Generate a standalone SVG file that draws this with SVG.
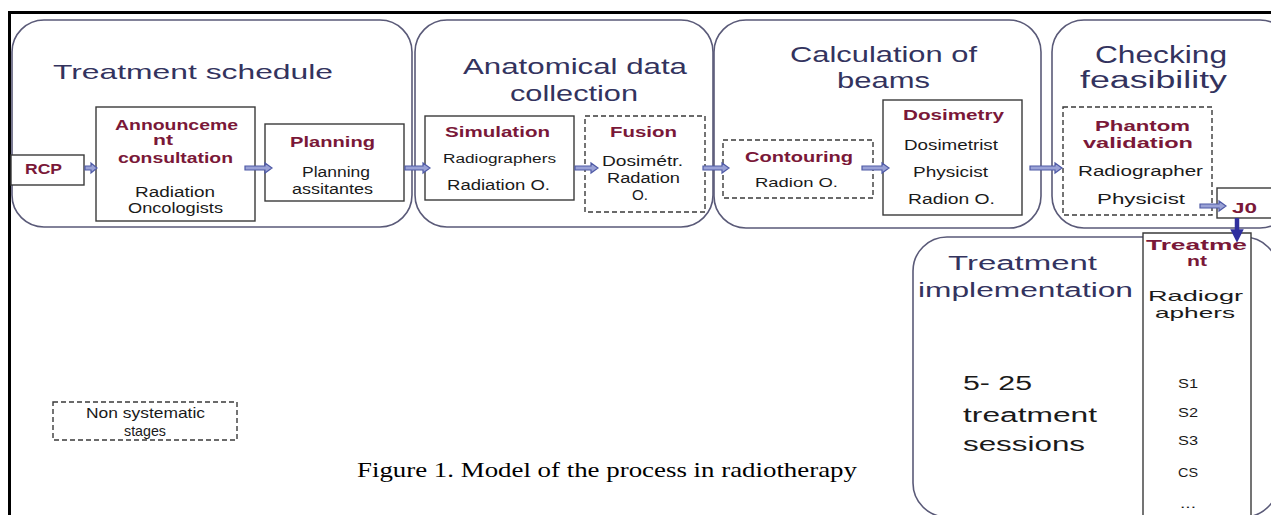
<svg xmlns="http://www.w3.org/2000/svg" width="1271" height="515" viewBox="0 0 1271 515">
<style>
.panel{fill:#fff;stroke:#5a5a78;stroke-width:1.6}
.box{fill:#fff;stroke:#3a3a3a;stroke-width:1.4}
.dash{fill:#fff;stroke:#3a3a3a;stroke-width:1.4;stroke-dasharray:5,3}
.title{font-family:"Liberation Sans",Arial,sans-serif;fill:#33335e}
.lbl{font-family:"Liberation Sans",Arial,sans-serif;font-weight:bold;fill:#7a1838;font-size:15px}
.txt{font-family:"Liberation Sans",Arial,sans-serif;fill:#1a1a1a}
.arr{fill:#9aa2d6;stroke:#4f5aa6;stroke-width:1.2}
.cap{font-family:"Liberation Serif","Times New Roman",serif;fill:#000;font-size:21px}
</style>
<defs>
<marker id="down" viewBox="0 0 10 10" refX="5" refY="5" markerWidth="3" markerHeight="3" orient="auto"><path d="M0,0 L10,5 L0,10 Z" fill="#2f2f9e"/></marker>
</defs>
<rect x="0" y="0" width="1271" height="515" fill="#fff"/>
<line x1="8" y1="12.5" x2="1271" y2="12.5" stroke="#000" stroke-width="3"/>
<line x1="9.5" y1="11" x2="9.5" y2="515" stroke="#000" stroke-width="3"/>

<g id="panel-schedule">
<rect class="panel" x="12" y="20" width="400" height="207" rx="32"/>
<text class="title" font-size="21" x="53" y="79" textLength="280" lengthAdjust="spacingAndGlyphs">Treatment schedule</text>
</g>
<g id="panel-anatomical">
<rect class="panel" x="415" y="20" width="298" height="207" rx="32"/>
<text class="title" font-size="22" x="463" y="74" textLength="224" lengthAdjust="spacingAndGlyphs">Anatomical data</text>
<text class="title" font-size="22" x="510" y="101" textLength="128" lengthAdjust="spacingAndGlyphs">collection</text>
</g>
<g id="panel-calculation">
<rect class="panel" x="714" y="20" width="327" height="208" rx="32"/>
<text class="title" font-size="22" x="790" y="62" textLength="187" lengthAdjust="spacingAndGlyphs">Calculation of</text>
<text class="title" font-size="22" x="837" y="88" textLength="93" lengthAdjust="spacingAndGlyphs">beams</text>
</g>
<g id="panel-checking">
<rect class="panel" x="1052" y="20" width="240" height="208" rx="32"/>
<text class="title" font-size="23" x="1095" y="63" textLength="132" lengthAdjust="spacingAndGlyphs">Checking</text>
<text class="title" font-size="23" x="1080" y="88" textLength="147" lengthAdjust="spacingAndGlyphs">feasibility</text>
</g>
<g id="panel-implementation">
<rect class="panel" x="913" y="237" width="365" height="280" rx="34"/>
<text class="title" font-size="20" x="948" y="270" textLength="149" lengthAdjust="spacingAndGlyphs">Treatment</text>
<text class="title" font-size="20" x="918" y="297" textLength="215" lengthAdjust="spacingAndGlyphs">implementation</text>
<text class="txt" font-size="20" x="963" y="390" textLength="69" lengthAdjust="spacingAndGlyphs">5- 25</text>
<text class="txt" font-size="20" x="963" y="422" textLength="134" lengthAdjust="spacingAndGlyphs">treatment</text>
<text class="txt" font-size="20" x="963" y="451" textLength="122" lengthAdjust="spacingAndGlyphs">sessions</text>
</g>

<g id="node-rcp">
<rect class="box" x="11" y="155" width="73" height="30"/>
<text class="lbl" font-size="14" x="25" y="174" textLength="37" lengthAdjust="spacingAndGlyphs">RCP</text>
</g>
<g id="node-announcement">
<rect class="box" x="96" y="107" width="159" height="114"/>
<text class="lbl" x="115" y="130" textLength="123" lengthAdjust="spacingAndGlyphs">Announceme</text>
<text class="lbl" x="153" y="145" textLength="20" lengthAdjust="spacingAndGlyphs">nt</text>
<text class="lbl" x="118" y="163" textLength="115" lengthAdjust="spacingAndGlyphs">consultation</text>
<text class="txt" font-size="14" x="135" y="197" textLength="80" lengthAdjust="spacingAndGlyphs">Radiation</text>
<text class="txt" font-size="14" x="128" y="213" textLength="95" lengthAdjust="spacingAndGlyphs">Oncologists</text>
</g>
<g id="node-planning">
<rect class="box" x="265" y="124" width="139" height="77"/>
<text class="lbl" font-size="16" x="290" y="147" textLength="85" lengthAdjust="spacingAndGlyphs">Planning</text>
<text class="txt" font-size="14" x="302" y="177" textLength="68" lengthAdjust="spacingAndGlyphs">Planning</text>
<text class="txt" font-size="14" x="292" y="194" textLength="81" lengthAdjust="spacingAndGlyphs">assitantes</text>
</g>
<g id="node-simulation">
<rect class="box" x="425" y="116" width="149" height="84"/>
<text class="lbl" x="445" y="137" textLength="105" lengthAdjust="spacingAndGlyphs">Simulation</text>
<text class="txt" font-size="12" x="443" y="163" textLength="113" lengthAdjust="spacingAndGlyphs">Radiographers</text>
<text class="txt" font-size="14" x="447" y="190" textLength="103" lengthAdjust="spacingAndGlyphs">Radiation O.</text>
</g>
<g id="node-fusion">
<rect class="dash" x="585" y="116" width="120" height="96"/>
<text class="lbl" x="610" y="137" textLength="67" lengthAdjust="spacingAndGlyphs">Fusion</text>
<text class="txt" font-size="14" x="602" y="166" textLength="81" lengthAdjust="spacingAndGlyphs">Dosimétr.</text>
<text class="txt" font-size="14" x="607" y="183" textLength="73" lengthAdjust="spacingAndGlyphs">Radation</text>
<text class="txt" font-size="14" x="632" y="200" textLength="16" lengthAdjust="spacingAndGlyphs">O.</text>
</g>
<g id="node-contouring">
<rect class="dash" x="723" y="140" width="150" height="58"/>
<text class="lbl" x="745" y="162" textLength="108" lengthAdjust="spacingAndGlyphs">Contouring</text>
<text class="txt" font-size="13" x="755" y="187" textLength="83" lengthAdjust="spacingAndGlyphs">Radion O.</text>
</g>
<g id="node-dosimetry">
<rect class="box" x="883" y="100" width="139" height="115"/>
<text class="lbl" x="903" y="120" textLength="101" lengthAdjust="spacingAndGlyphs">Dosimetry</text>
<text class="txt" font-size="14" x="904" y="150" textLength="94" lengthAdjust="spacingAndGlyphs">Dosimetrist</text>
<text class="txt" font-size="14" x="913" y="177" textLength="75" lengthAdjust="spacingAndGlyphs">Physicist</text>
<text class="txt" font-size="14" x="908" y="204" textLength="87" lengthAdjust="spacingAndGlyphs">Radion O.</text>
</g>
<g id="node-phantom">
<rect class="dash" x="1063" y="107" width="149" height="108"/>
<text class="lbl" x="1095" y="131" textLength="95" lengthAdjust="spacingAndGlyphs">Phantom</text>
<text class="lbl" x="1083" y="148" textLength="110" lengthAdjust="spacingAndGlyphs">validation</text>
<text class="txt" font-size="14" x="1078" y="176" textLength="125" lengthAdjust="spacingAndGlyphs">Radiographer</text>
<text class="txt" font-size="14" x="1097" y="204" textLength="88" lengthAdjust="spacingAndGlyphs">Physicist</text>
</g>
<g id="node-j0">
<rect class="box" x="1217" y="188" width="60" height="30"/>
<text class="lbl" font-size="15" x="1232" y="213" textLength="25" lengthAdjust="spacingAndGlyphs">J0</text>
</g>
<g id="node-treatment">
<path d="M1143,520 V233 H1251 V520" fill="#fff" stroke="#3a3a3a" stroke-width="1.4"/>
<text class="lbl" x="1146" y="250" textLength="101" lengthAdjust="spacingAndGlyphs">Treatme</text>
<text class="lbl" x="1187" y="266" textLength="20" lengthAdjust="spacingAndGlyphs">nt</text>
<text class="txt" font-size="15" x="1148" y="301" textLength="95" lengthAdjust="spacingAndGlyphs">Radiogr</text>
<text class="txt" font-size="15" x="1155" y="318" textLength="80" lengthAdjust="spacingAndGlyphs">aphers</text>
<text class="txt" font-size="12" x="1178" y="388" textLength="20" lengthAdjust="spacingAndGlyphs">S1</text>
<text class="txt" font-size="12" x="1178" y="417" textLength="20" lengthAdjust="spacingAndGlyphs">S2</text>
<text class="txt" font-size="12" x="1178" y="445" textLength="20" lengthAdjust="spacingAndGlyphs">S3</text>
<text class="txt" font-size="12" x="1178" y="477" textLength="20" lengthAdjust="spacingAndGlyphs">CS</text>
<text class="txt" font-size="12" x="1180" y="508" textLength="16" lengthAdjust="spacingAndGlyphs">...</text>
</g>
<g id="legend">
<rect class="dash" x="53" y="402" width="184" height="38" stroke-width="1"/>
<text class="txt" font-size="15" x="86" y="418" textLength="119" lengthAdjust="spacingAndGlyphs">Non systematic</text>
<text class="txt" font-size="15" x="124" y="436" textLength="42" lengthAdjust="spacingAndGlyphs">stages</text>
</g>
<g id="caption">
<text class="cap" x="357" y="477" textLength="500" lengthAdjust="spacingAndGlyphs">Figure 1. Model of the process in radiotherapy</text>
</g>

<g id="connectors">
<path class="arr" d="M85,166 H91 V163 L97,168 L91,173 V170 H85 Z"/>
<path class="arr" d="M245,166 H265 V163 L272,168 L265,173 V170 H245 Z"/>
<path class="arr" d="M405,166 H423 V163 L430,168 L423,173 V170 H405 Z"/>
<path class="arr" d="M575,166 H591 V163 L598,168 L591,173 V170 H575 Z"/>
<path class="arr" d="M703,166 H722 V163 L729,168 L722,173 V170 H703 Z"/>
<path class="arr" d="M862,166 H882 V163 L889,168 L882,173 V170 H862 Z"/>
<path class="arr" d="M1030,166 H1055 V163 L1062,168 L1055,173 V170 H1030 Z"/>
<path class="arr" d="M1200,204 H1219 V201 L1226,206 L1219,211 V208 H1200 Z"/>
<line x1="1237" y1="218" x2="1237" y2="236" stroke="#2f2f9e" stroke-width="4.5" marker-end="url(#down)"/>
</g>
</svg>
